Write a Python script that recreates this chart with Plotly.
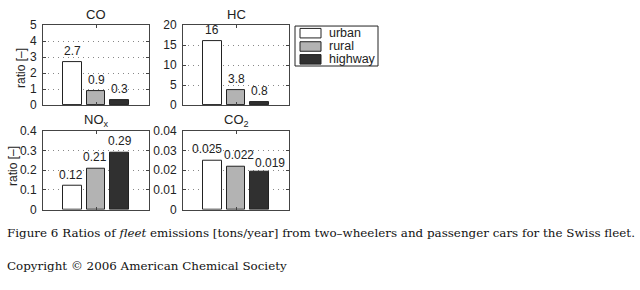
import plotly.graph_objects as go

# Data
modes = ["urban", "rural", "highway"]
pollutants = ["CO", "HC", "NO<sub>x</sub>", "CO<sub>2</sub>"]
co_vals = [2.7, 0.9, 0.3]
hc_vals = [16, 3.8, 0.8]
nox_vals = [0.12, 0.21, 0.29]
co2_vals = [0.025, 0.022, 0.019]
co_labels = ["2.7", "0.9", "0.3"]
hc_labels = ["16", "3.8", "0.8"]
nox_labels = ["0.12", "0.21", "0.29"]
co2_labels = ["0.025", "0.022", "0.019"]
y_ranges = [[0, 5], [0, 20], [0, 0.4], [0, 0.04]]
y_ticktexts = [
    ["0", "1", "2", "3", "4", "5"],
    ["0", "5", "10", "15", "20"],
    ["0", "0.1", "0.2", "0.3", "0.4"],
    ["0", "0.01", "0.02", "0.03", "0.04"],
]
y_tickvals = [
    [0, 1, 2, 3, 4, 5],
    [0, 5, 10, 15, 20],
    [0, 0.1, 0.2, 0.3, 0.4],
    [0, 0.01, 0.02, 0.03, 0.04],
]
y_title = "ratio [–]"

colors = ["#ffffff", "#b3b3b3", "#303030"]
W, H = 640, 290

# pixel boxes (left, right, top, bottom)
boxes = [(43, 149, 19, 103), (183, 289, 19, 103), (43, 149, 130, 213), (183, 289, 130, 213)]
# label horizontal nudges (style) per panel
label_xshift = [[0, 0, 0], [0, 0, 0], [-1, -1, 0], [-5, 3, 10]]
label_yshift = [[2, 2, 2], [2, 2, 2], [2, 2, 2], [2, 2, 0]]

fig = go.Figure()
all_vals = [co_vals, hc_vals, nox_vals, co2_vals]
all_labels = [co_labels, hc_labels, nox_labels, co2_labels]
font_sans = "Liberation Sans, Arial, Helvetica, sans-serif"
TXT = "#222222"
FS = 12
xpos = [1, 2, 3]

annotations = []
shapes = []

for p in range(4):
    ax = "" if p == 0 else str(p + 1)
    for i, m in enumerate(modes):
        fig.add_trace(go.Bar(
            x=[xpos[i]], y=[all_vals[p][i]], width=0.8,
            name=m, showlegend=False,
            marker=dict(color=colors[i], line=dict(color="#222222", width=1)),
            xaxis="x" + ax, yaxis="y" + ax,
        ))
        annotations.append(dict(
            text=all_labels[p][i], x=xpos[i], y=all_vals[p][i],
            xref="x" + ax, yref="y" + ax, showarrow=False,
            xanchor="center", yanchor="bottom",
            xshift=label_xshift[p][i], yshift=label_yshift[p][i],
            font=dict(family=font_sans, size=FS, color=TXT),
        ))

layout = dict(
    width=W, height=H,
    margin=dict(l=0, r=0, t=0, b=0),
    paper_bgcolor="white", plot_bgcolor="white",
    bargap=0, barmode="overlay",
    font=dict(family=font_sans, size=FS, color=TXT),
    showlegend=False,
)

for p in range(4):
    l, r, t, b = boxes[p]
    ax = "" if p == 0 else str(p + 1)
    layout["xaxis" + ax] = dict(
        domain=[l / W, r / W], range=[-0.25, 4.25],
        anchor="y" + ax, showgrid=False, zeroline=False,
        tickvals=[2], showticklabels=False, ticks="inside", ticklen=3,
        tickcolor="#444",
        showline=True, linecolor="#444", linewidth=1, mirror="ticks",
        fixedrange=True,
    )
    layout["yaxis" + ax] = dict(
        domain=[1 - b / H, 1 - t / H], range=y_ranges[p],
        anchor="x" + ax, tickvals=y_tickvals[p], ticktext=y_ticktexts[p],
        ticks="inside", ticklen=3, tickcolor="#444",
        showline=True, linecolor="#444", linewidth=1, mirror="ticks",
        showgrid=True, gridcolor="#888", griddash="1px,4px", gridwidth=1,
        zeroline=False, tickfont=dict(size=FS, color=TXT),
        ticklabelstandoff=3,
        fixedrange=True,
    )
    annotations.append(dict(
        text=pollutants[p], x=(l + r) / 2 / W, y=1 - (t - 11) / H,
        xref="paper", yref="paper", showarrow=False,
        xanchor="center", yanchor="middle",
        font=dict(family=font_sans, size=13, color=TXT),
    ))

# y-axis titles (left column)
for xc, yc in [(21, 64), (13, 167)]:
    annotations.append(dict(
        text=y_title, x=xc / W, y=1 - yc / H, xref="paper", yref="paper",
        showarrow=False, textangle=-90, xanchor="center", yanchor="middle",
        font=dict(family=font_sans, size=FS, color=TXT),
    ))

# legend box drawn in the layout
lx0, lx1, ly0, ly1 = 295, 378, 20, 62
shapes.append(dict(type="rect", xref="paper", yref="paper",
                   x0=lx0 / W, x1=lx1 / W, y0=1 - ly1 / H, y1=1 - ly0 / H,
                   line=dict(color="#222", width=1), fillcolor="white"))
row_c = [27.5, 41.5, 55]
for i, m in enumerate(modes):
    yc = row_c[i]
    shapes.append(dict(type="rect", xref="paper", yref="paper",
                       x0=300 / W, x1=321 / W, y0=1 - (yc + 5) / H, y1=1 - (yc - 5) / H,
                       line=dict(color="#222", width=1), fillcolor=colors[i]))
    annotations.append(dict(
        text=m, x=327 / W, y=1 - yc / H, xref="paper", yref="paper",
        showarrow=False, xanchor="left", yanchor="middle",
        font=dict(family=font_sans, size=12.5, color=TXT),
    ))

serif = "DejaVu Serif, serif"
annotations.append(dict(
    text="Figure 6 Ratios of <i>fleet</i> emissions [tons/year] from two–wheelers and passenger cars for the Swiss fleet.",
    x=5 / W, y=1 - 237 / H, xref="paper", yref="paper", showarrow=False,
    xanchor="left", yanchor="middle", font=dict(family=serif, size=11.9, color="#111"),
))
annotations.append(dict(
    text="Copyright © 2006 American Chemical Society",
    x=5 / W, y=1 - 272 / H, xref="paper", yref="paper", showarrow=False,
    xanchor="left", yanchor="middle", font=dict(family=serif, size=11.9, color="#111"),
))
layout["annotations"] = annotations
layout["shapes"] = shapes

fig.update_layout(**layout)
fig.write_html("out.html")
